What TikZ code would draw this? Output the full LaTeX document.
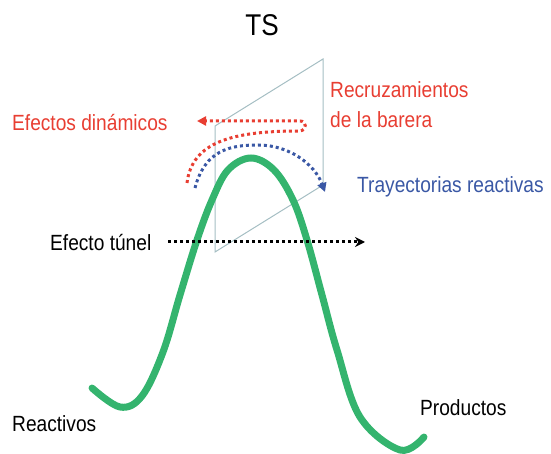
\documentclass[tikz,border=0pt]{standalone}
\usepackage{fontspec}
\setmainfont[FakeStretch=0.87]{Liberation Sans}
\usetikzlibrary{arrows.meta}
\definecolor{curvegreen}{RGB}{52,180,110}
\definecolor{dynred}{RGB}{232,62,50}
\definecolor{reacblue}{RGB}{58,88,165}
\definecolor{planegray}{RGB}{165,190,195}
\tikzset{
  dots/.style={line width=3pt, dash pattern=on 3pt off 3pt},
  lbl/.style={inner sep=0pt, font=\fontsize{22}{24}\selectfont}
}

\begin{document}
\begin{tikzpicture}[x=1pt, y=-1pt]
				\useasboundingbox (0,0) rectangle (551,454);
				
				% dividing surface
				\draw[planegray, line width=1pt] (215,252) -- (215,126) -- (323,59) -- (323,185) -- cycle;
				
				% energy profile
				\draw[curvegreen, line width=7pt, line cap=round] plot[smooth, tension=0.6] coordinates {(92,388) (120,407) (142,396) (163,352) (180,295) (197,240) (212,200) (228,170) (251,158) (274,170) (293,200) (307,240) (322,295) (337,350) (360,417) (400,450) (424,437)};
				
				% trajectories
				\draw[dynred, dots, -{Triangle[length=9pt, width=9pt]}] (187,183) .. controls (192,142) and (232,131) .. (300,131) .. controls (307,130) and (307,121) .. (300,121) -- (197,121);
				\draw[reacblue, dots, -{Triangle[length=9pt, width=9pt]}] (195,188) .. controls (205,150) and (230,145) .. (258,145) .. controls (290,145) and (315,165) .. (325,192);
				\draw[black, dots, -{Stealth[length=10pt, width=10pt]}] (168,242) -- (365,242);
				
				% labels
				\node[lbl, font=\fontsize{30}{32}\selectfont] (ts) at (262,25) {TS};
				\node[lbl, dynred, anchor=west] (dyn) at (12,123) {Efectos dinámicos};
				\node[lbl, dynred, anchor=west] (recr) at (330,90) {Recruzamientos};
				\node[lbl, dynred, anchor=west] (bar) at (330,120) {de la barera};
				\node[lbl, reacblue, anchor=west] (tray) at (357,187) {Trayectorias reactivas};
				\node[lbl, anchor=west] (tun) at (50,243) {Efecto túnel};
				\node[lbl, anchor=west] (reac) at (12,424) {Reactivos};
				\node[lbl, anchor=west] (prod) at (420,408) {Productos};
\end{tikzpicture}
\end{document}
